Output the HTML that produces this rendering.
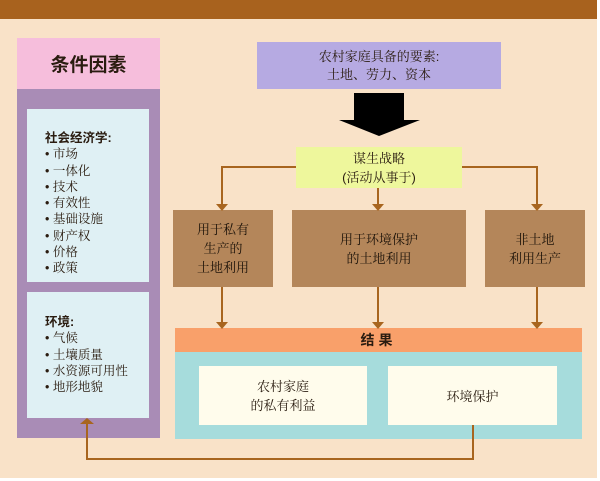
<!DOCTYPE html>
<html><head><meta charset="utf-8"><style>
body{margin:0;width:600px;height:481px;overflow:hidden;background:#fff;font-family:"Liberation Sans","Noto Serif CJK SC","Noto Sans CJK SC",serif;}
#bg{position:absolute;left:0;top:0;width:597px;height:478px;background:#f9e2c8;}
.b{position:absolute;box-sizing:border-box;display:flex;align-items:center;justify-content:center;text-align:center;color:#2a1c10;}
.list{position:absolute;font-size:12.5px;line-height:16.3px;color:#2a1c10;}
.list b{font-family:"Liberation Sans","Noto Sans CJK SC",sans-serif;}
</style></head><body>
<div id="bg"></div>
<div class="b" style="left:0;top:0;width:597px;height:19px;background:#a8621e;"></div>
<div class="b" style="left:17px;top:38px;width:143px;height:51px;background:#f6bedc;font-size:19px;font-weight:bold;font-family:'Liberation Sans','Noto Sans CJK SC',sans-serif;">条件因素</div>
<div class="b" style="left:17px;top:89px;width:143px;height:349px;background:#a98cb6;"></div>
<div class="b" style="left:27px;top:109px;width:122px;height:173px;background:#dff0f4;"></div>
<div class="b" style="left:27px;top:292px;width:122px;height:126px;background:#dff0f4;"></div>
<div class="list" style="left:45px;top:130px;"><b>社会经济学:</b><br>• 市场<br>• 一体化<br>• 技术<br>• 有效性<br>• 基础设施<br>• 财产权<br>• 价格<br>• 政策</div>
<div class="list" style="left:45px;top:314px;"><b>环境:</b><br>• 气候<br>• 土壤质量<br>• 水资源可用性<br>• 地形地貌</div>
<div class="b" style="left:257px;top:42px;width:244px;height:47px;background:#b6aae2;font-size:13px;line-height:18px;">农村家庭具备的要素:<br>土地、劳力、资本</div>
<div class="b" style="left:296px;top:147px;width:166px;height:41px;background:#eef79c;font-size:13px;line-height:19px;">谋生战略<br>(活动从事于)</div>
<div class="b" style="left:173px;top:210px;width:100px;height:77px;background:#b4865a;font-size:13px;line-height:19px;color:#1e140a;">用于私有<br>生产的<br>土地利用</div>
<div class="b" style="left:292px;top:210px;width:174px;height:77px;background:#b4865a;font-size:13px;line-height:19px;color:#1e140a;">用于环境保护<br>的土地利用</div>
<div class="b" style="left:485px;top:210px;width:100px;height:77px;background:#b4865a;font-size:13px;line-height:19px;color:#1e140a;">非土地<br>利用生产</div>
<div class="b" style="left:175px;top:328px;width:407px;height:24px;background:#f9a06a;font-size:14px;font-weight:bold;font-family:'Liberation Sans','Noto Sans CJK SC',sans-serif;letter-spacing:4px;">结果</div>
<div class="b" style="left:175px;top:352px;width:407px;height:87px;background:#a6dcdc;"></div>
<div class="b" style="left:199px;top:366px;width:168px;height:59px;background:#fffcec;font-size:13px;line-height:19px;">农村家庭<br>的私有利益</div>
<div class="b" style="left:388px;top:366px;width:169px;height:59px;background:#fffcec;font-size:13px;">环境保护</div>
<svg style="position:absolute;left:0;top:0" width="600" height="481">
<g stroke="#a8651f" stroke-width="2" fill="none">
<polyline points="296,167 222,167 222,205"/>
<polyline points="462,167 537,167 537,205"/>
<line x1="378" y1="188" x2="378" y2="205"/>
<line x1="222" y1="287" x2="222" y2="323"/>
<line x1="378" y1="287" x2="378" y2="323"/>
<line x1="537" y1="287" x2="537" y2="323"/>
<polyline points="473,425 473,459 87,459 87,424"/>
</g>
<g fill="#a8651f">
<polygon points="216,204 228,204 222,211"/>
<polygon points="372,204 384,204 378,211"/>
<polygon points="531,204 543,204 537,211"/>
<polygon points="216,322 228,322 222,329"/>
<polygon points="372,322 384,322 378,329"/>
<polygon points="531,322 543,322 537,329"/>
<polygon points="80,424 94,424 87,418"/>
</g>
<polygon points="354,93 404,93 404,120 420,120 379,136 339,120 354,120" fill="#000"/>
</svg>
</body></html>
